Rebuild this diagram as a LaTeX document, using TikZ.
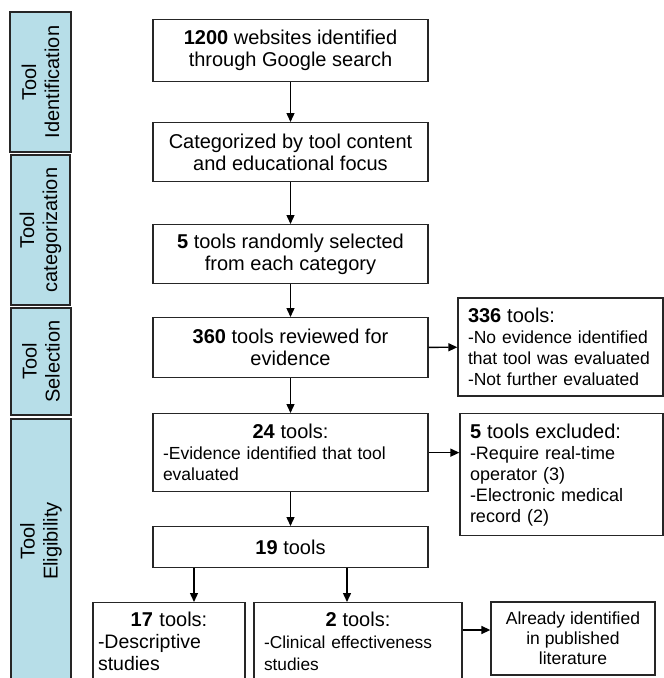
\documentclass[tikz,border=0pt]{standalone}
\usepackage{fontspec}
\setmainfont{Liberation Sans}
\usetikzlibrary{arrows.meta}
\definecolor{stagefill}{HTML}{B7DEE8}
\newcommand{\hdsize}{\fontsize{20}{22}\selectfont}
\newcommand{\bdsize}{\fontsize{17.5}{21}\selectfont}
\newcommand{\hd}[1]{\makebox[\linewidth][c]{\hdsize #1}}

\begin{document}
\begin{tikzpicture}[x=1pt,y=-1pt]
\tikzstyle{every node}=[draw=black!85, line width=1.3pt, inner sep=0pt, font=\hdsize, text=black]
\tikzstyle{stage}=[fill=stagefill, rotate=90, align=center, font=\fontsize{20}{23}\selectfont]
\tikzstyle{box}=[align=center, minimum width=275, anchor=north]
\tikzstyle{note}=[align=left, font=\bdsize, inner xsep=10]
\tikzstyle{arr}=[-{Triangle[length=9pt,width=8pt]}, line width=1.4pt, draw=black]
\useasboundingbox (0,0) rectangle (664,678);
\clip (0,0) rectangle (664,678);
% stages
\node (ident) [stage, minimum width=140, minimum height=61] at (40.5,82) {Tool\\Identification};
\node (categ) [stage, minimum width=150, minimum height=59] at (40.5,230) {Tool\\categorization};
\node (selec) [stage, minimum width=107, minimum height=60] at (41,361.5) {Tool\\Selection};
\node (elig) [stage, minimum width=280, minimum height=60] at (41,559) {};
\node (eligtxt) [draw=none, rotate=90, align=center, font=\fontsize{20}{23}\selectfont] at (41,541) {Tool\\Eligibility};
% main column
\node (web) [box, minimum height=62] at (290.5,19) {\textbf{1200} websites identified\\through Google search};
\node (cat) [box, minimum height=59] at (290.5,122) {Categorized by tool content\\and educational focus};
\node (rand) [box, minimum height=59] at (290.5,224) {\textbf{5} tools randomly selected\\from each category};
\node (rev) [box, minimum height=60] at (290.5,317) {\textbf{360} tools reviewed for\\evidence};
\node (evid) [box, note, text width=255, minimum height=78] at (290.5,413) {\hd{\textbf{24} tools:}\\-Evidence identified that tool\\evaluated};
\node (nineteen) [box, minimum height=41] at (290.5,526) {\textbf{19} tools};
% bottom row
\node (descr) [note, text width=142, inner xsep=5, inner ysep=9, anchor=north, font=\fontsize{19.5}{22}\selectfont] at (169,602) {\hd{\textbf{17} tools:}\\-Descriptive\\studies\rule[-20pt]{0pt}{0pt}};
\node (clin) [note, text width=188, inner ysep=9, anchor=north, font=\fontsize{17.3}{22}\selectfont] at (358,602) {\hd{\textbf{2} tools:}\\-Clinical effectiveness\\studies\rule[-20pt]{0pt}{0pt}};
\node (lit) [align=center, minimum width=164, minimum height=73, font=\fontsize{17.5}{20}\selectfont] at (573,638.5) {Already identified\\in published\\literature};
% side boxes
\node (noev) [note, text width=185, minimum height=98] at (560.5,347) {{\hdsize\textbf{336} tools:}\\-No evidence identified\\that tool was evaluated\\-Not further evaluated};
\node (excl) [note, text width=183, minimum height=122, anchor=north, font=\fontsize{18}{21}\selectfont] at (561.5,413) {{\hdsize\textbf{5} tools excluded:}\\-Require real-time\\operator (3)\\-Electronic medical\\record (2)};
% arrows
\draw[arr] (web) -- (cat);
\draw[arr] (cat) -- (rand);
\draw[arr] (rand) -- (rev);
\draw[arr] (rev) -- (evid);
\draw[arr] (evid) -- (nineteen);
\draw[arr] (rev) -- (noev);
\draw[arr] (evid.east) -- (evid.east -| excl.west);
\draw[arr] ([xshift=-96.5]nineteen.south) -- ([xshift=-96.5]nineteen.south |- descr.north);
\draw[arr] ([xshift=56.5]nineteen.south) -- ([xshift=56.5]nineteen.south |- clin.north);
\draw[arr] ([yshift=-28]clin.north east) -- ([yshift=-28]clin.north east -| lit.west);
\end{tikzpicture}
\end{document}
